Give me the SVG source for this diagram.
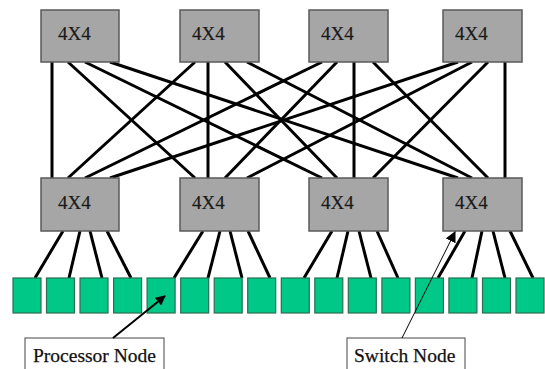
<svg xmlns="http://www.w3.org/2000/svg" width="545" height="369" viewBox="0 0 545 369">
<defs>
<style>
.sw{fill:#a6a6a6;stroke:#5a5a5a;stroke-width:1.5}
.pn{fill:#00c887;stroke:#2b6e52;stroke-width:1.2}
.t{font-family:"Liberation Serif","Times New Roman",serif;font-size:19px;fill:#1a1a1a;stroke:#1a1a1a;stroke-width:0.2}
.lb{font-family:"Liberation Serif","Times New Roman",serif;font-size:19.5px;fill:#111;stroke:#111;stroke-width:0.25}
.lbox{fill:#fff;stroke:#444;stroke-width:1}
#links line{stroke:#000;stroke-width:3}
</style>
<marker id="ah" viewBox="0 0 10 10" refX="9" refY="5" markerWidth="5" markerHeight="5" orient="auto" markerUnits="strokeWidth">
<path d="M0,0 L10,5 L0,10 z" fill="#000"/>
</marker>
<marker id="ah2" viewBox="0 0 10 10" refX="9" refY="5" markerWidth="11" markerHeight="11" orient="auto" markerUnits="strokeWidth">
<path d="M0,0 L10,5 L0,10 z" fill="#000"/>
</marker>
</defs>
<g id="links">
<line x1="52" y1="62" x2="52" y2="178"/>
<line x1="68" y1="62" x2="195" y2="178"/>
<line x1="85" y1="62" x2="322" y2="178"/>
<line x1="110" y1="62" x2="458" y2="178"/>
<line x1="195" y1="62" x2="68" y2="178"/>
<line x1="208" y1="62" x2="208" y2="178"/>
<line x1="225" y1="62" x2="337" y2="178"/>
<line x1="247" y1="62" x2="472" y2="178"/>
<line x1="322" y1="62" x2="85" y2="178"/>
<line x1="337" y1="62" x2="225" y2="178"/>
<line x1="354" y1="62" x2="354" y2="178"/>
<line x1="373" y1="62" x2="488" y2="178"/>
<line x1="458" y1="62" x2="110" y2="178"/>
<line x1="472" y1="62" x2="247" y2="178"/>
<line x1="488" y1="62" x2="373" y2="178"/>
<line x1="505" y1="62" x2="505" y2="178"/>
<line x1="63" y1="231" x2="35" y2="278"/>
<line x1="80" y1="231" x2="69" y2="278"/>
<line x1="90" y1="231" x2="102" y2="278"/>
<line x1="107" y1="231" x2="131" y2="278"/>
<line x1="203" y1="231" x2="174" y2="278"/>
<line x1="220" y1="231" x2="208" y2="278"/>
<line x1="230" y1="231" x2="242" y2="278"/>
<line x1="248" y1="231" x2="270" y2="278"/>
<line x1="332" y1="231" x2="304" y2="278"/>
<line x1="348" y1="231" x2="337" y2="278"/>
<line x1="359" y1="231" x2="371" y2="278"/>
<line x1="377" y1="231" x2="398" y2="278"/>
<line x1="465" y1="231" x2="438" y2="278"/>
<line x1="482" y1="231" x2="472" y2="278"/>
<line x1="493" y1="231" x2="505" y2="278"/>
<line x1="510" y1="231" x2="533" y2="278"/>
</g>
<g id="top1"><rect class="sw" x="41" y="10" width="78" height="52"/><text class="t" x="58" y="40">4X4</text></g>
<g id="top2"><rect class="sw" x="180" y="10" width="79" height="52"/><text class="t" x="192" y="40">4X4</text></g>
<g id="top3"><rect class="sw" x="309" y="10" width="79" height="52"/><text class="t" x="321" y="40">4X4</text></g>
<g id="top4"><rect class="sw" x="443" y="10" width="79" height="52"/><text class="t" x="455" y="40">4X4</text></g>
<g id="bot1"><rect class="sw" x="41" y="178" width="78" height="53"/><text class="t" x="58" y="209">4X4</text></g>
<g id="bot2"><rect class="sw" x="180" y="178" width="79" height="53"/><text class="t" x="192" y="209">4X4</text></g>
<g id="bot3"><rect class="sw" x="309" y="178" width="79" height="53"/><text class="t" x="321" y="209">4X4</text></g>
<g id="bot4"><rect class="sw" x="443" y="178" width="79" height="53"/><text class="t" x="455" y="209">4X4</text></g>
<g id="procs">
<rect class="pn" x="13" y="278" width="28" height="35"/>
<rect class="pn" x="46.5" y="278" width="28" height="35"/>
<rect class="pn" x="80" y="278" width="28" height="35"/>
<rect class="pn" x="113.6" y="278" width="28" height="35"/>
<rect class="pn" x="147.1" y="278" width="28" height="35"/>
<rect class="pn" x="180.7" y="278" width="28" height="35"/>
<rect class="pn" x="214.2" y="278" width="28" height="35"/>
<rect class="pn" x="247.7" y="278" width="28" height="35"/>
<rect class="pn" x="281.3" y="278" width="28" height="35"/>
<rect class="pn" x="314.8" y="278" width="28" height="35"/>
<rect class="pn" x="348.3" y="278" width="28" height="35"/>
<rect class="pn" x="381.9" y="278" width="28" height="35"/>
<rect class="pn" x="415.4" y="278" width="28" height="35"/>
<rect class="pn" x="448.9" y="278" width="28" height="35"/>
<rect class="pn" x="482.5" y="278" width="28" height="35"/>
<rect class="pn" x="516" y="278" width="28" height="35"/>
</g>
<g id="label-processor">
<rect class="lbox" x="25" y="338" width="139" height="40"/>
<text class="lb" x="33" y="362">Processor Node</text>
<line x1="113" y1="338" x2="165" y2="296" stroke="#000" stroke-width="2" marker-end="url(#ah)"/>
</g>
<g id="label-switch">
<rect class="lbox" x="347" y="338" width="118" height="40"/>
<text class="lb" x="354" y="362">Switch Node</text>
<line x1="402" y1="338" x2="455" y2="232" stroke="#000" stroke-width="1" marker-end="url(#ah2)"/>
</g>
</svg>
